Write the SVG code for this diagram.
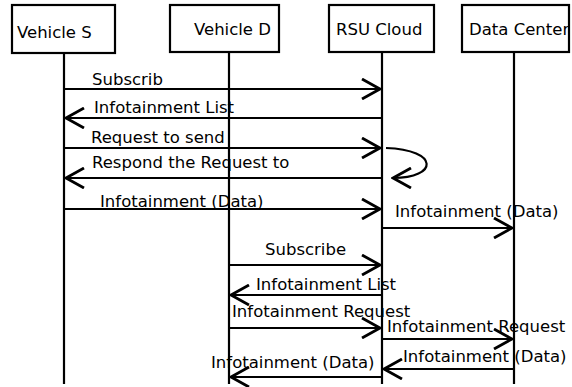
<svg xmlns="http://www.w3.org/2000/svg" width="572" height="387" viewBox="0 0 572 387">
  <style>
    text { font-family: "DejaVu Sans", Verdana, sans-serif; font-size: 16.5px; fill: #000; }
    .box { fill: #fff; stroke: #000; stroke-width: 2.2; }
    .life { stroke: #000; stroke-width: 2.2; fill: none; }
    .msg { stroke: #000; stroke-width: 2.2; fill: none; marker-end: url(#arrow); }
  </style>
  <defs>
    <marker id="arrow" markerUnits="userSpaceOnUse" viewBox="0 0 22 22" refX="20" refY="11" markerWidth="22" markerHeight="22" orient="auto">
      <path d="M2,1 L20,11 L2,21" fill="none" stroke="#000" stroke-width="2.8"/>
    </marker>
  </defs>

  <!-- participants with lifelines -->
  <g id="vehicle-s">
    <line class="life" x1="64" y1="53" x2="64" y2="384"/>
    <rect class="box" x="12" y="5" width="103" height="48"/>
    <text x="17" y="38">Vehicle S</text>
  </g>
  <g id="vehicle-d">
    <line class="life" x1="229" y1="52" x2="229" y2="384"/>
    <rect class="box" x="170" y="5" width="109" height="47"/>
    <text x="194" y="35">Vehicle D</text>
  </g>
  <g id="rsu-cloud">
    <line class="life" x1="382" y1="52" x2="382" y2="384"/>
    <rect class="box" x="329" y="5" width="105" height="47"/>
    <text x="336" y="35">RSU Cloud</text>
  </g>
  <g id="data-center">
    <line class="life" x1="514" y1="52" x2="514" y2="384"/>
    <rect class="box" x="462" y="5" width="107" height="47"/>
    <text x="469" y="35">Data Center</text>
  </g>

  <!-- messages -->
  <g id="connectors">
    <line class="msg" x1="64" y1="89" x2="380" y2="89"/>
    <line class="msg" x1="382" y1="118" x2="66" y2="118"/>
    <line class="msg" x1="64" y1="148" x2="380" y2="148"/>
    <line class="msg" x1="382" y1="178" x2="66" y2="178"/>
    <path class="msg" d="M386,148 C440,150 438,178 393,178"/>
    <line class="msg" x1="64" y1="209" x2="380" y2="209"/>
    <line class="msg" x1="382" y1="228" x2="512" y2="228"/>
    <line class="msg" x1="229" y1="265" x2="380" y2="265"/>
    <line class="msg" x1="382" y1="295" x2="231" y2="295"/>
    <line class="msg" x1="229" y1="328" x2="380" y2="328"/>
    <line class="msg" x1="382" y1="339" x2="512" y2="339"/>
    <line class="msg" x1="514" y1="369" x2="384" y2="369"/>
    <line class="msg" x1="382" y1="377" x2="231" y2="377"/>
  </g>

  <!-- message labels -->
  <g id="labels">
    <text x="92" y="85">Subscrib</text>
    <text x="94" y="113">Infotainment List</text>
    <text x="91" y="143">Request to send</text>
    <text x="92" y="168">Respond the Request to</text>
    <text x="100" y="207">Infotainment (Data)</text>
    <text x="395" y="217">Infotainment (Data)</text>
    <text x="265" y="255">Subscribe</text>
    <text x="256" y="290">Infotainment List</text>
    <text x="232" y="317">Infotainment Request</text>
    <text x="387" y="332">Infotainment Request</text>
    <text x="403" y="362">Infotainment (Data)</text>
    <text x="211" y="368">Infotainment (Data)</text>
  </g>
</svg>
